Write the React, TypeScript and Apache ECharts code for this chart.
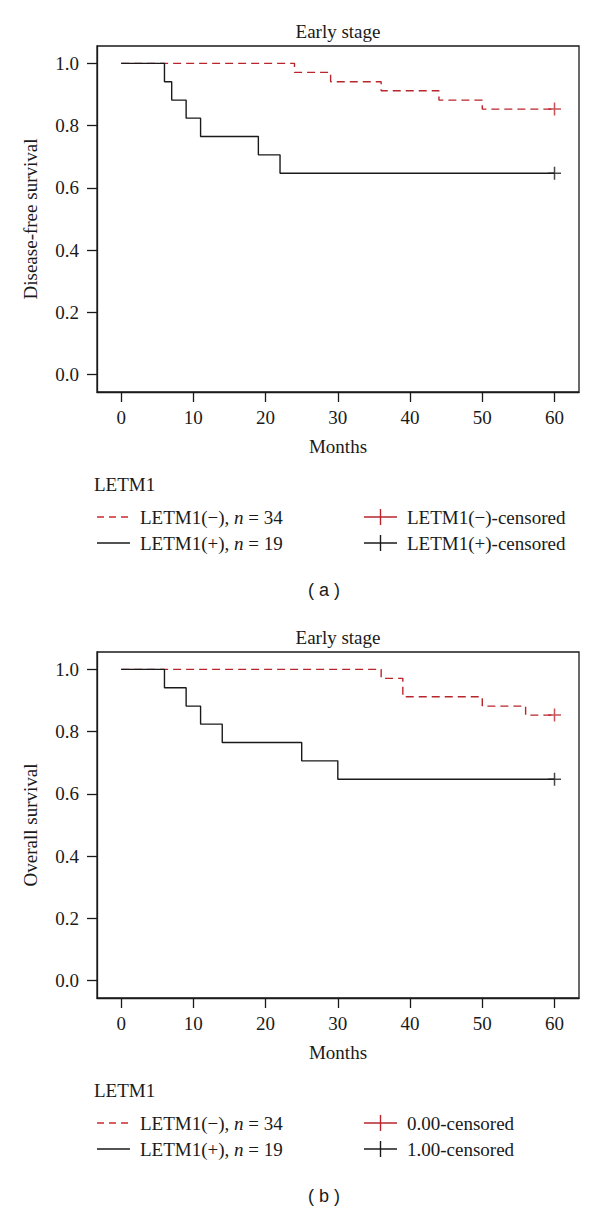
import React, { useEffect, useRef } from "react";
import * as echarts from "echarts";

// ---- data ----
const monthTicks = [0, 10, 20, 30, 40, 50, 60];
const survTicks = [0, 0.2, 0.4, 0.6, 0.8, 1.0];

// (a) Disease-free survival
const dfsNegTime = [0, 24, 29, 36, 44, 50, 60];
const dfsNegSurv = [1, 0.971, 0.941, 0.912, 0.882, 0.853, 0.853];
const dfsPosTime = [0, 6, 7, 9, 11, 19, 22, 60];
const dfsPosSurv = [1, 0.941, 0.882, 0.824, 0.765, 0.706, 0.647, 0.647];

// (b) Overall survival
const osNegTime = [0, 36, 39, 50, 56, 60];
const osNegSurv = [1, 0.971, 0.912, 0.882, 0.853, 0.853];
const osPosTime = [0, 6, 9, 11, 14, 25, 30, 60];
const osPosSurv = [1, 0.941, 0.882, 0.824, 0.765, 0.706, 0.647, 0.647];

const censorTime = 60;

const panelTitles = ["Early stage", "Early stage"];
const yNames = ["Disease-free survival", "Overall survival"];
const legendTitle = "LETM1";
const legendLeft = ["LETM1(−), {i|n} = 34", "LETM1(+), {i|n} = 19"];
const legendRightA = ["LETM1(−)-censored", "LETM1(+)-censored"];
const legendRightB = ["0.00-censored", "1.00-censored"];
const panelLabels = ["( a )", "( b )"];

const RED = "#b8262c";
const BLACK = "#1a1a1a";
const SERIF = "'Liberation Serif', 'Times New Roman', serif";
const FS = 19;

const zip = (t: number[], s: number[]) => t.map((v, i) => [v, s[i]]);

export default function App() {
  const ref = useRef<HTMLDivElement>(null);
  useEffect(() => {
    if (!ref.current) return;
    const chart = echarts.init(ref.current, undefined, { renderer: "svg" });

    const gridL = 97;
    const gridW = 482;
    const gridH = 346;
    const tops = [46, 652];
    const off = 606;

    const xAxisCommon = (gi: number) => ({
      type: "value",
      gridIndex: gi,
      min: -3.34,
      max: 63.39,
      splitLine: { show: false },
      axisLine: { show: true, onZero: false, lineStyle: { color: BLACK, width: 1.3 } },
      axisTick: {
        show: true,
        length: 10,
        customValues: monthTicks,
        lineStyle: { color: BLACK, width: 1.3 },
      },
      axisLabel: {
        customValues: monthTicks,
        margin: 16,
        color: BLACK,
        fontFamily: SERIF,
        fontSize: FS,
      },
    });
    const yAxisCommon = (gi: number) => ({
      type: "value",
      gridIndex: gi,
      min: -0.0557,
      max: 1.0557,
      splitLine: { show: false },
      axisLine: { show: true, onZero: false, lineStyle: { color: BLACK, width: 1.3 } },
      axisTick: {
        show: true,
        length: 10,
        customValues: survTicks,
        lineStyle: { color: BLACK, width: 1.3 },
      },
      axisLabel: {
        customValues: survTicks,
        margin: 18,
        color: BLACK,
        fontFamily: SERIF,
        fontSize: FS,
        formatter: (v: number) => v.toFixed(1),
      },
    });

    const stepSeries = (gi: number, data: number[][], color: string, dashed: boolean) => ({
      type: "line",
      xAxisIndex: gi,
      yAxisIndex: gi,
      step: "end",
      data,
      symbol: "none",
      lineStyle: { color, width: 1.4, type: dashed ? [8, 5] : "solid" },
      z: dashed ? 2 : 3,
    });
    const censorSeries = (gi: number, y: number, color: string) => ({
      type: "scatter",
      xAxisIndex: gi,
      yAxisIndex: gi,
      data: [[censorTime, y]],
      symbol: "path://M5,0L5,10M0,5L10,5",
      symbolSize: 13,
      itemStyle: { color: "none", borderColor: color, borderWidth: 1.5 },
      z: 4,
    });

    const graphics: any[] = [];
    for (let p = 0; p < 2; p++) {
      const dy = p * off;
      const cx = gridL + gridW / 2;
      graphics.push({
        type: "text",
        style: { text: panelTitles[p], x: cx, y: 31 + dy, align: "center", verticalAlign: "middle", fontFamily: SERIF, fontSize: FS, fill: BLACK },
      });
      graphics.push({
        type: "text",
        x: 30,
        y: tops[p] + gridH / 2,
        rotation: Math.PI / 2,
        style: { text: yNames[p], x: 0, y: 0, align: "center", verticalAlign: "middle", fontFamily: SERIF, fontSize: FS, fill: BLACK },
      });
      graphics.push({
        type: "text",
        style: { text: "Months", x: cx, y: 446 + dy, align: "center", verticalAlign: "middle", fontFamily: SERIF, fontSize: FS, fill: BLACK },
      });
      graphics.push({
        type: "text",
        style: { text: legendTitle, x: 94, y: 484 + dy, align: "left", verticalAlign: "middle", fontFamily: SERIF, fontSize: FS, fill: BLACK },
      });
      const rows = [517 + dy, 543 + dy];
      const colors = [RED, BLACK];
      const rightTexts = p === 0 ? legendRightA : legendRightB;
      for (let r = 0; r < 2; r++) {
        graphics.push({
          type: "line",
          shape: { x1: 97, y1: rows[r], x2: 130, y2: rows[r] },
          style: { stroke: r === 0 ? "#cc2a30" : BLACK, lineWidth: 1.4, lineDash: r === 0 ? [7, 5] : null },
        });
        graphics.push({
          type: "text",
          style: {
            text: legendLeft[r],
            x: 140,
            y: rows[r],
            align: "left",
            verticalAlign: "middle",
            fontFamily: SERIF,
            fontSize: FS,
            fill: BLACK,
            rich: { i: { fontStyle: "italic", fontFamily: SERIF, fontSize: FS, fill: BLACK } },
          },
        });
        graphics.push({
          type: "line",
          shape: { x1: 364, y1: rows[r], x2: 397, y2: rows[r] },
          style: { stroke: colors[r], lineWidth: 1.4 },
        });
        graphics.push({
          type: "line",
          shape: { x1: 380.5, y1: rows[r] - 8, x2: 380.5, y2: rows[r] + 8 },
          style: { stroke: colors[r], lineWidth: 1.4 },
        });
        graphics.push({
          type: "text",
          style: { text: rightTexts[r], x: 407, y: rows[r], align: "left", verticalAlign: "middle", fontFamily: SERIF, fontSize: FS, fill: BLACK },
        });
      }
      graphics.push({
        type: "text",
        style: { text: panelLabels[p], x: 324, y: 590 + dy, align: "center", verticalAlign: "middle", fontFamily: "'Liberation Sans', Arial, sans-serif", fontSize: 18, fill: BLACK },
      });
    }

    chart.setOption({
      animation: false,
      backgroundColor: "#ffffff",
      grid: tops.map((t) => ({
        left: gridL,
        top: t,
        width: gridW,
        height: gridH,
        show: true,
        borderColor: BLACK,
        borderWidth: 1.3,
        backgroundColor: "transparent",
        containLabel: false,
      })),
      xAxis: [xAxisCommon(0), xAxisCommon(1)],
      yAxis: [yAxisCommon(0), yAxisCommon(1)],
      series: [
        stepSeries(0, zip(dfsNegTime, dfsNegSurv), RED, true),
        stepSeries(0, zip(dfsPosTime, dfsPosSurv), BLACK, false),
        censorSeries(0, dfsNegSurv[dfsNegSurv.length - 1], RED),
        censorSeries(0, dfsPosSurv[dfsPosSurv.length - 1], BLACK),
        stepSeries(1, zip(osNegTime, osNegSurv), RED, true),
        stepSeries(1, zip(osPosTime, osPosSurv), BLACK, false),
        censorSeries(1, osNegSurv[osNegSurv.length - 1], RED),
        censorSeries(1, osPosSurv[osPosSurv.length - 1], BLACK),
      ],
      graphic: graphics,
    });
    return () => chart.dispose();
  }, []);
  return (
    <div
      ref={ref}
      style={{ position: "absolute", left: 0, top: 0, width: 600, height: 1211 }}
    />
  );
}
